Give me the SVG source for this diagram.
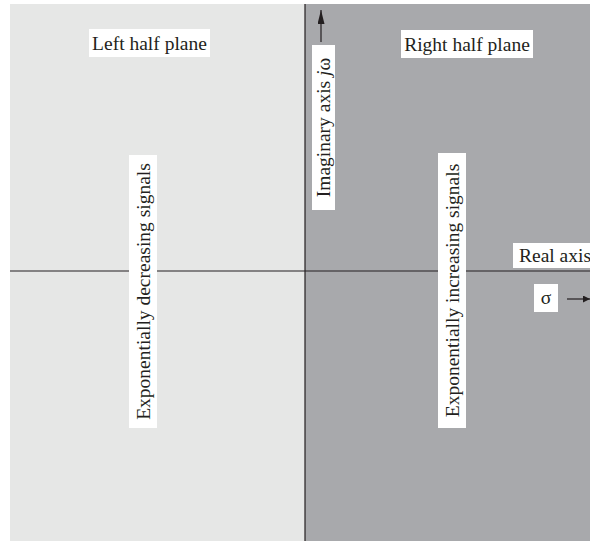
<svg xmlns="http://www.w3.org/2000/svg" width="590" height="541" viewBox="0 0 590 541">
<defs>
<style>
.lbl{font-family:"Liberation Serif","Times New Roman",serif;font-size:19.5px;fill:#231f20}
.box{fill:#ffffff}
.ax{stroke:#231f20;stroke-width:1.2;fill:none}
</style>
<marker id="ah" viewBox="0 0 10 10" refX="10" refY="5" markerWidth="7" markerHeight="7" markerUnits="userSpaceOnUse" orient="auto"><path d="M0,0 L10,5 L0,10 Z" fill="#231f20"/></marker>
<marker id="ah2" viewBox="0 0 10 10" refX="10" refY="5" markerWidth="14" markerHeight="7" markerUnits="userSpaceOnUse" orient="auto" preserveAspectRatio="none"><path d="M0,0 L10,5 L0,10 Z" fill="#231f20"/></marker>
</defs>
<rect x="0" y="0" width="590" height="541" fill="#ffffff"/>
<g id="left-plane"><rect x="10" y="4" width="295" height="537" fill="#e6e7e6"/></g>
<g id="right-plane"><rect x="305" y="4" width="285" height="537" fill="#a8a9ac"/></g>
<g id="connectors">
<line class="ax" x1="10" y1="271" x2="590" y2="271"/>
<line class="ax" x1="305" y1="4" x2="305" y2="541"/>
<line class="ax" x1="321" y1="42" x2="321" y2="10" marker-end="url(#ah2)"/>
<line class="ax" x1="567" y1="299" x2="590" y2="299" marker-end="url(#ah)"/>
</g>
<g id="left-label"><rect class="box" x="89" y="29" width="121" height="28"/><text class="lbl" x="149.5" y="50" text-anchor="middle">Left half plane</text></g>
<g id="right-label"><rect class="box" x="401" y="30" width="132" height="28"/><text class="lbl" x="467" y="51" text-anchor="middle">Right half plane</text></g>
<g id="imag-label"><rect class="box" x="312" y="45" width="23" height="165"/><text class="lbl" transform="translate(330,127.5) rotate(-90)" text-anchor="middle">Imaginary axis <tspan font-style="italic">j</tspan>ω</text></g>
<g id="real-label"><rect class="box" x="513" y="243" width="77" height="25"/><text class="lbl" x="519" y="262">Real axis</text></g>
<g id="sigma-label"><rect class="box" x="534" y="284" width="24" height="28"/><text class="lbl" x="546" y="304" text-anchor="middle">σ</text></g>
<g id="decreasing-label"><rect class="box" x="129" y="155" width="28" height="273"/><text class="lbl" transform="translate(149.5,291.5) rotate(-90)" text-anchor="middle">Exponentially decreasing signals</text></g>
<g id="increasing-label"><rect class="box" x="438" y="153" width="28" height="275"/><text class="lbl" transform="translate(458.5,290.5) rotate(-90)" text-anchor="middle">Exponentially increasing signals</text></g>
</svg>
